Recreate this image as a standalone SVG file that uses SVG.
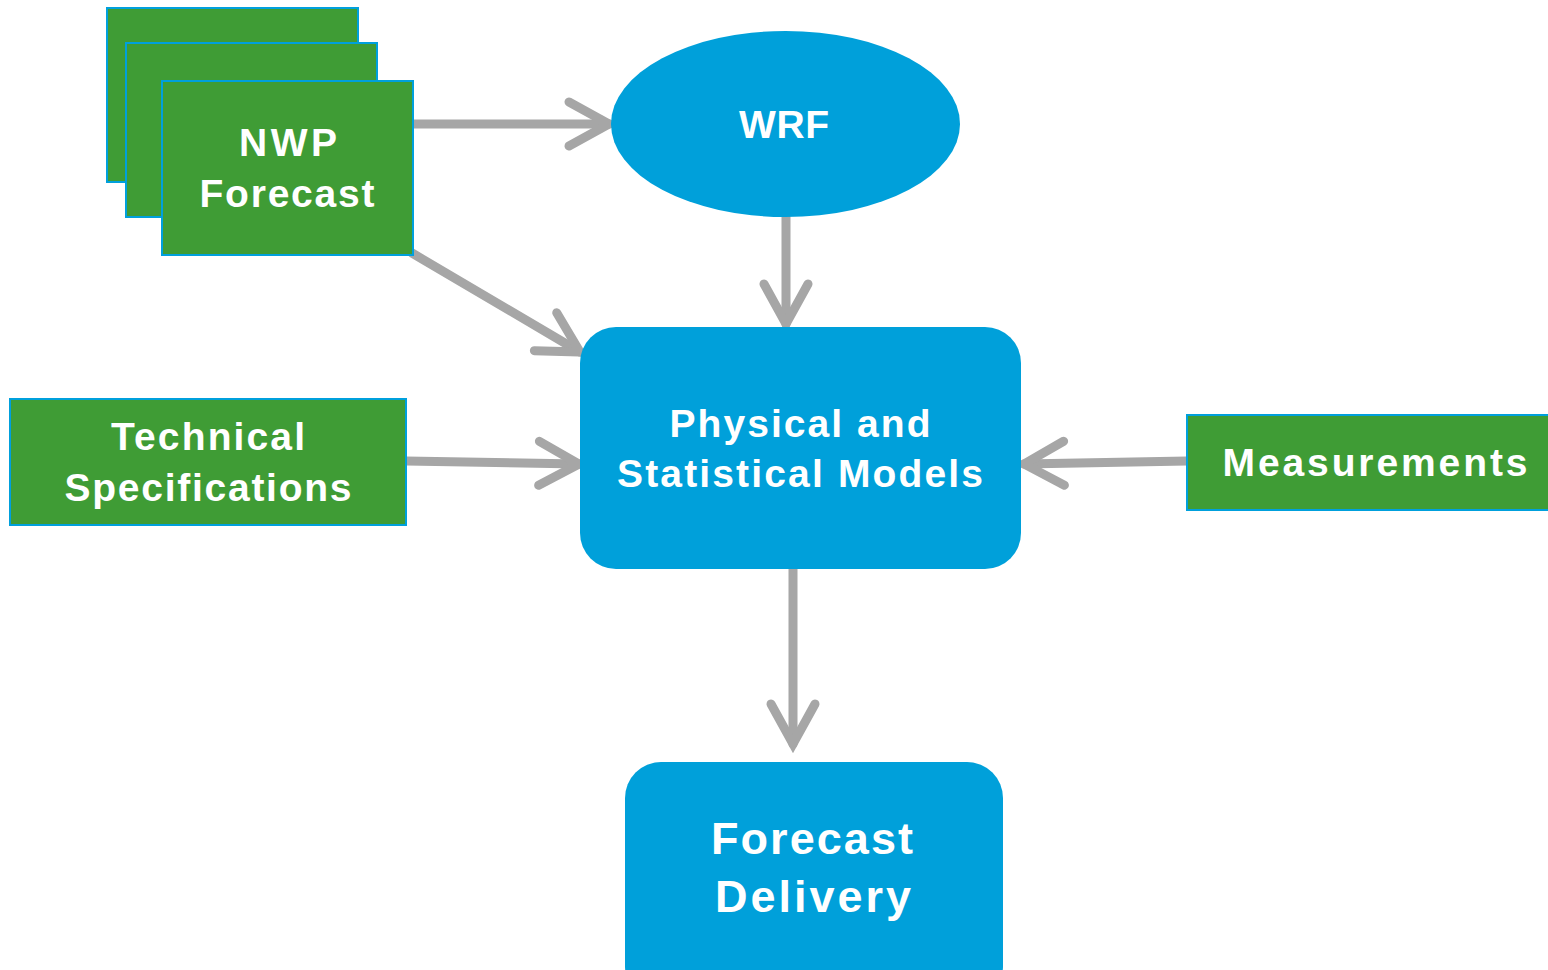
<svg xmlns="http://www.w3.org/2000/svg" width="1548" height="970" viewBox="0 0 1548 970">
  <style>
    .green { fill: #3f9c35; stroke: #00a0dc; stroke-width: 2; }
    .blue { fill: #00a0da; }
    .label { fill: #ffffff; font-family: "Liberation Sans", Arial, sans-serif; font-weight: bold; font-size: 39px; text-anchor: middle; }
    .big { font-size: 45px; }
    .conn { stroke: #a6a6a6; stroke-width: 9; fill: none; stroke-linecap: round; }
  </style>
  <defs>
    <marker id="head" markerUnits="userSpaceOnUse" markerWidth="60" markerHeight="60" viewBox="-50 -30 60 60" refX="0" refY="0" orient="auto" overflow="visible">
      <path d="M-40,-22 L0,0 L-40,22" fill="none" stroke="#a6a6a6" stroke-width="9" stroke-linecap="round" stroke-linejoin="miter"/>
    </marker>
  </defs>

  <g id="connectors">
    <line class="conn" x1="413" y1="124" x2="609" y2="124" marker-end="url(#head)"/>
    <line class="conn" x1="412" y1="253" x2="580" y2="352" marker-end="url(#head)"/>
    <line class="conn" x1="786" y1="217" x2="786" y2="324" marker-end="url(#head)"/>
    <line class="conn" x1="406" y1="461" x2="579" y2="464" marker-end="url(#head)"/>
    <line class="conn" x1="1187" y1="461" x2="1024" y2="464" marker-end="url(#head)"/>
    <line class="conn" x1="793" y1="569" x2="793" y2="744" marker-end="url(#head)"/>
  </g>

  <g id="nwp-forecast">
    <rect class="green" x="107" y="8" width="251" height="174"/>
    <rect class="green" x="126" y="43" width="251" height="174"/>
    <rect class="green" x="162" y="81" width="251" height="174"/>
    <text class="label" x="288" y="156" textLength="98" lengthAdjust="spacing">NWP</text>
    <text class="label" x="287" y="207" textLength="175" lengthAdjust="spacing">Forecast</text>
  </g>

  <g id="wrf">
    <ellipse class="blue" cx="785.5" cy="124" rx="174.5" ry="93"/>
    <text class="label" x="784" y="138" textLength="90" lengthAdjust="spacing">WRF</text>
  </g>

  <g id="models">
    <rect class="blue" x="580" y="327" width="441" height="242" rx="36" ry="36"/>
    <text class="label" x="800" y="437" textLength="261" lengthAdjust="spacing">Physical and</text>
    <text class="label" x="800" y="487" textLength="366" lengthAdjust="spacing">Statistical Models</text>
  </g>

  <g id="technical-specifications">
    <rect class="green" x="10" y="399" width="396" height="126"/>
    <text class="label" x="208" y="450" textLength="194" lengthAdjust="spacing">Technical</text>
    <text class="label" x="208" y="501" textLength="287" lengthAdjust="spacing">Specifications</text>
  </g>

  <g id="measurements">
    <rect class="green" x="1187" y="415" width="370" height="95"/>
    <text class="label" x="1375" y="476" textLength="305" lengthAdjust="spacing">Measurements</text>
  </g>

  <g id="forecast-delivery">
    <rect class="blue" x="625" y="762" width="378" height="240" rx="36" ry="36"/>
    <text class="label big" x="812" y="854" textLength="202" lengthAdjust="spacing">Forecast</text>
    <text class="label big" x="813" y="912" textLength="196" lengthAdjust="spacing">Delivery</text>
  </g>
</svg>
